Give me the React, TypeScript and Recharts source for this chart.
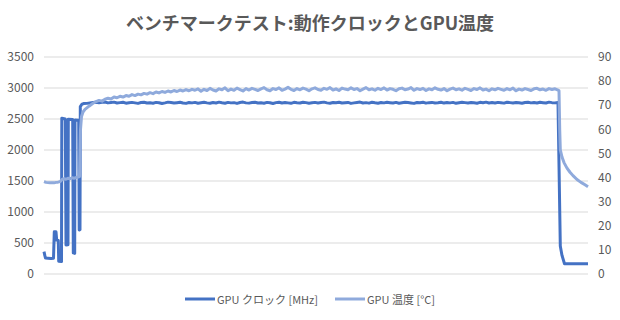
import React from 'react';
import { LineChart, Line, XAxis, YAxis, CartesianGrid, Legend } from 'recharts';

const FONT = '"Noto Sans CJK JP", "Noto Sans", sans-serif';
const TEXT = '#595959';
const CLOCK_COLOR = '#4472C4';
const TEMP_COLOR = '#8FAADC';

const title = 'ベンチマークテスト:動作クロックとGPU温度';
const clockName = 'GPU クロック [MHz]';
const tempName = 'GPU 温度 [°C]';

const clockTicks = [0, 500, 1000, 1500, 2000, 2500, 3000, 3500];
const tempTicks = [0, 10, 20, 30, 40, 50, 60, 70, 80, 90];

// clock: start-up section (time, MHz)
const clockLeadT = [0, 0.8, 1.5, 4, 7, 9.5, 10.3, 12, 12.7, 14.3, 14.7, 17.5, 17.8, 21.3, 22, 24, 24.3, 28.7, 29.3, 30.7, 31, 34.7, 35.2, 36, 36.3, 38];
const clockLeadV = [360, 300, 258, 255, 250, 255, 682, 680, 548, 540, 205, 200, 2511, 2500, 468, 470, 2495, 2490, 340, 333, 2484, 2480, 710, 715, 2700, 2740];
// clock: steady section, sampled every 3 time units from t=40
const clockFlatStart = 40;
const clockFlatStep = 3;
const clockFlatV = [
  2750, 2752, 2758, 2765, 2770, 2762, 2768, 2775, 2760, 2766, 2772, 2758, 2764, 2770, 2755, 2762, 2768, 2760, 2752, 2765,
  2770, 2758, 2763, 2755, 2768, 2762, 2750, 2760, 2772, 2765, 2757, 2763, 2770, 2758, 2752, 2766, 2760, 2768, 2755, 2762,
  2770, 2760, 2753, 2765, 2758, 2772, 2762, 2755, 2768, 2760, 2764, 2752, 2767, 2773, 2760, 2756, 2765, 2770, 2758, 2763,
  2755, 2768, 2762, 2750, 2764, 2771, 2758, 2766, 2760, 2753, 2769, 2762, 2757, 2770, 2764, 2755, 2761, 2768, 2759, 2765,
  2772, 2760, 2754, 2766, 2762, 2770, 2757, 2763, 2768, 2752, 2760, 2767, 2773, 2758, 2764, 2756, 2769, 2761, 2755, 2766,
  2760, 2770, 2763, 2757, 2768, 2754, 2762, 2771, 2765, 2758, 2752, 2767, 2761, 2770, 2756, 2764, 2768, 2759, 2763, 2771,
  2757, 2765, 2760, 2768, 2753, 2762, 2770, 2764, 2758, 2766, 2761, 2755, 2769, 2763, 2772, 2759, 2765, 2757, 2768, 2762,
  2756, 2770, 2764, 2758, 2767, 2761, 2753, 2766, 2771, 2760, 2765, 2757, 2769, 2763, 2758, 2772, 2764, 2760, 2768,
];
// clock: shutdown section
const clockTailT = [516.3, 518, 520.5, 532, 544];
const clockTailV = [450, 300, 165, 165, 165];

// temperature: start-up section (time, °C)
const tempLeadT = [0, 2, 4, 6, 8, 10, 12, 14, 16, 18, 20, 22, 24, 26, 28, 30, 32, 34, 35.5, 36.5, 37.5, 39, 41, 45, 49];
const tempLeadV = [38.3, 38.0, 37.9, 37.8, 37.9, 37.8, 38.0, 38.1, 38.3, 39.2, 39.5, 39.3, 39.7, 39.5, 39.9, 39.7, 40.0, 40.2, 40.4, 60.0, 65.3, 67.2, 68.3, 69.6, 70.8];
// temperature: steady section, sampled every 3 time units from t=52
const tempFlatStart = 52;
const tempFlatStep = 3;
const tempFlatV = [
  71.5, 72.0, 71.7, 72.5, 72.9, 72.6, 73.4, 73.1, 73.7,
  73.4, 74.0, 73.7, 74.4, 74.0, 74.6, 74.3, 74.9, 74.6, 75.2,
  74.8, 75.5, 75.1, 75.7, 75.3, 75.9, 75.5, 76.1, 75.7, 76.3, 75.9, 76.5, 76.0, 76.6, 76.2, 76.8,
  75.8, 76.6, 76.1, 77.0, 76.3, 75.9, 76.8, 76.4, 77.2, 76.0, 76.7, 76.2, 77.1, 76.5, 75.9, 76.9, 76.3, 77.0, 76.6, 76.1,
  76.8, 77.3, 76.4, 76.0, 76.9, 76.5, 77.2, 76.2, 76.7, 77.4, 76.6, 76.1, 76.9, 76.4, 77.1, 76.7, 76.0, 76.8, 77.2, 76.5,
  76.2, 77.0, 76.6, 77.3, 76.3, 76.8, 76.1, 77.1, 76.7, 76.4, 77.2, 76.5, 76.9, 76.0, 76.7, 77.3, 76.4, 76.8, 76.2, 77.0,
  76.5, 77.2, 76.3, 76.9, 76.6, 76.0, 76.8, 77.1, 76.4, 76.7, 77.3, 76.2, 76.9, 76.5, 77.0, 76.1, 76.8, 76.4, 77.2, 76.6,
  76.3, 76.9, 76.0, 76.7, 77.1, 76.4, 76.8, 76.2, 77.0, 76.6, 76.1, 76.9, 76.5, 77.2, 76.3, 76.7, 76.0, 76.8, 76.4, 77.0,
  76.6, 76.2, 76.9, 76.4, 77.1, 76.0, 76.7, 76.3, 76.9, 76.5, 76.1, 76.8, 77.0, 76.4, 76.7, 76.2, 76.9, 76.5, 76.8, 76.3,
];
// temperature: cool-down section
const tempTailT = [515, 515.7, 516.3, 518, 520, 523, 526, 529, 533, 537, 541, 544];
const tempTailV = [76.0, 60.0, 51.5, 48.5, 46.2, 43.9, 42.2, 40.8, 39.2, 38.0, 37.0, 36.2];

const clockData = [
  ...clockLeadT.map((t, i) => ({ t, clock: clockLeadV[i] })),
  ...clockFlatV.map((v, i) => ({ t: clockFlatStart + i * clockFlatStep, clock: v })),
  ...clockTailT.map((t, i) => ({ t, clock: clockTailV[i] })),
];
const tempData = [
  ...tempLeadT.map((t, i) => ({ t, temp: tempLeadV[i] })),
  ...tempFlatV.map((v, i) => ({ t: tempFlatStart + i * tempFlatStep, temp: v })),
  ...tempTailT.map((t, i) => ({ t, temp: tempTailV[i] })),
];

const LegendContent = () => (
  <div style={{ display: 'flex', justifyContent: 'center', alignItems: 'center', gap: 17, fontFamily: FONT, fontSize: 11, color: TEXT, height: 20 }}>
    <div style={{ display: 'flex', alignItems: 'center' }}>
      <svg width={30} height={4} style={{ marginRight: 2 }}>
        <line x1={0} y1={2} x2={30} y2={2} stroke={CLOCK_COLOR} strokeWidth={3} />
      </svg>
      <span>{clockName}</span>
    </div>
    <div style={{ display: 'flex', alignItems: 'center' }}>
      <svg width={30} height={4} style={{ marginRight: 2 }}>
        <line x1={0} y1={2} x2={30} y2={2} stroke={TEMP_COLOR} strokeWidth={3} />
      </svg>
      <span>{tempName}</span>
    </div>
  </div>
);

export default function App() {
  return (
    <div style={{ position: 'absolute', left: 0, top: 0, width: 620, height: 320, background: '#fff' }}>
      <div style={{ position: 'absolute', left: 0, top: 9, width: 620, textAlign: 'center', fontFamily: FONT, fontSize: 18, fontWeight: 'bold', color: TEXT, lineHeight: '26px' }}>
        {title}
      </div>
      <LineChart width={620} height={320} margin={{ top: 57, right: 0, bottom: 46, left: 0 }}>
        <CartesianGrid vertical={false} stroke="#d9d9d9" yAxisId="left" />
        <XAxis type="number" dataKey="t" domain={[0, 544]} hide allowDuplicatedCategory={false} />
        <YAxis
          yAxisId="left"
          orientation="left"
          width={44}
          domain={[0, 3500]}
          ticks={clockTicks}
          axisLine={false}
          tickLine={false}
          tickMargin={4}
          tick={{ fontSize: 12, fill: TEXT, fontFamily: FONT }}
        />
        <YAxis
          yAxisId="right"
          orientation="right"
          width={32}
          domain={[0, 90]}
          ticks={tempTicks}
          axisLine={false}
          tickLine={false}
          tickMargin={4}
          tick={{ fontSize: 12, fill: TEXT, fontFamily: FONT, textAnchor: 'start' }}
        />
        <Legend
          layout="horizontal"
          verticalAlign="middle"
          align="center"
          wrapperStyle={{ top: 289, left: 0, width: 620, height: 20 }}
          content={() => <LegendContent />}
        />
        <Line
          yAxisId="left"
          data={clockData}
          dataKey="clock"
          name={clockName}
          stroke={CLOCK_COLOR}
          strokeWidth={3}
          dot={false}
          isAnimationActive={false}
          strokeLinejoin="round"
        />
        <Line
          yAxisId="right"
          data={tempData}
          dataKey="temp"
          name={tempName}
          stroke={TEMP_COLOR}
          strokeWidth={3}
          dot={false}
          isAnimationActive={false}
          strokeLinejoin="round"
        />
      </LineChart>
    </div>
  );
}
